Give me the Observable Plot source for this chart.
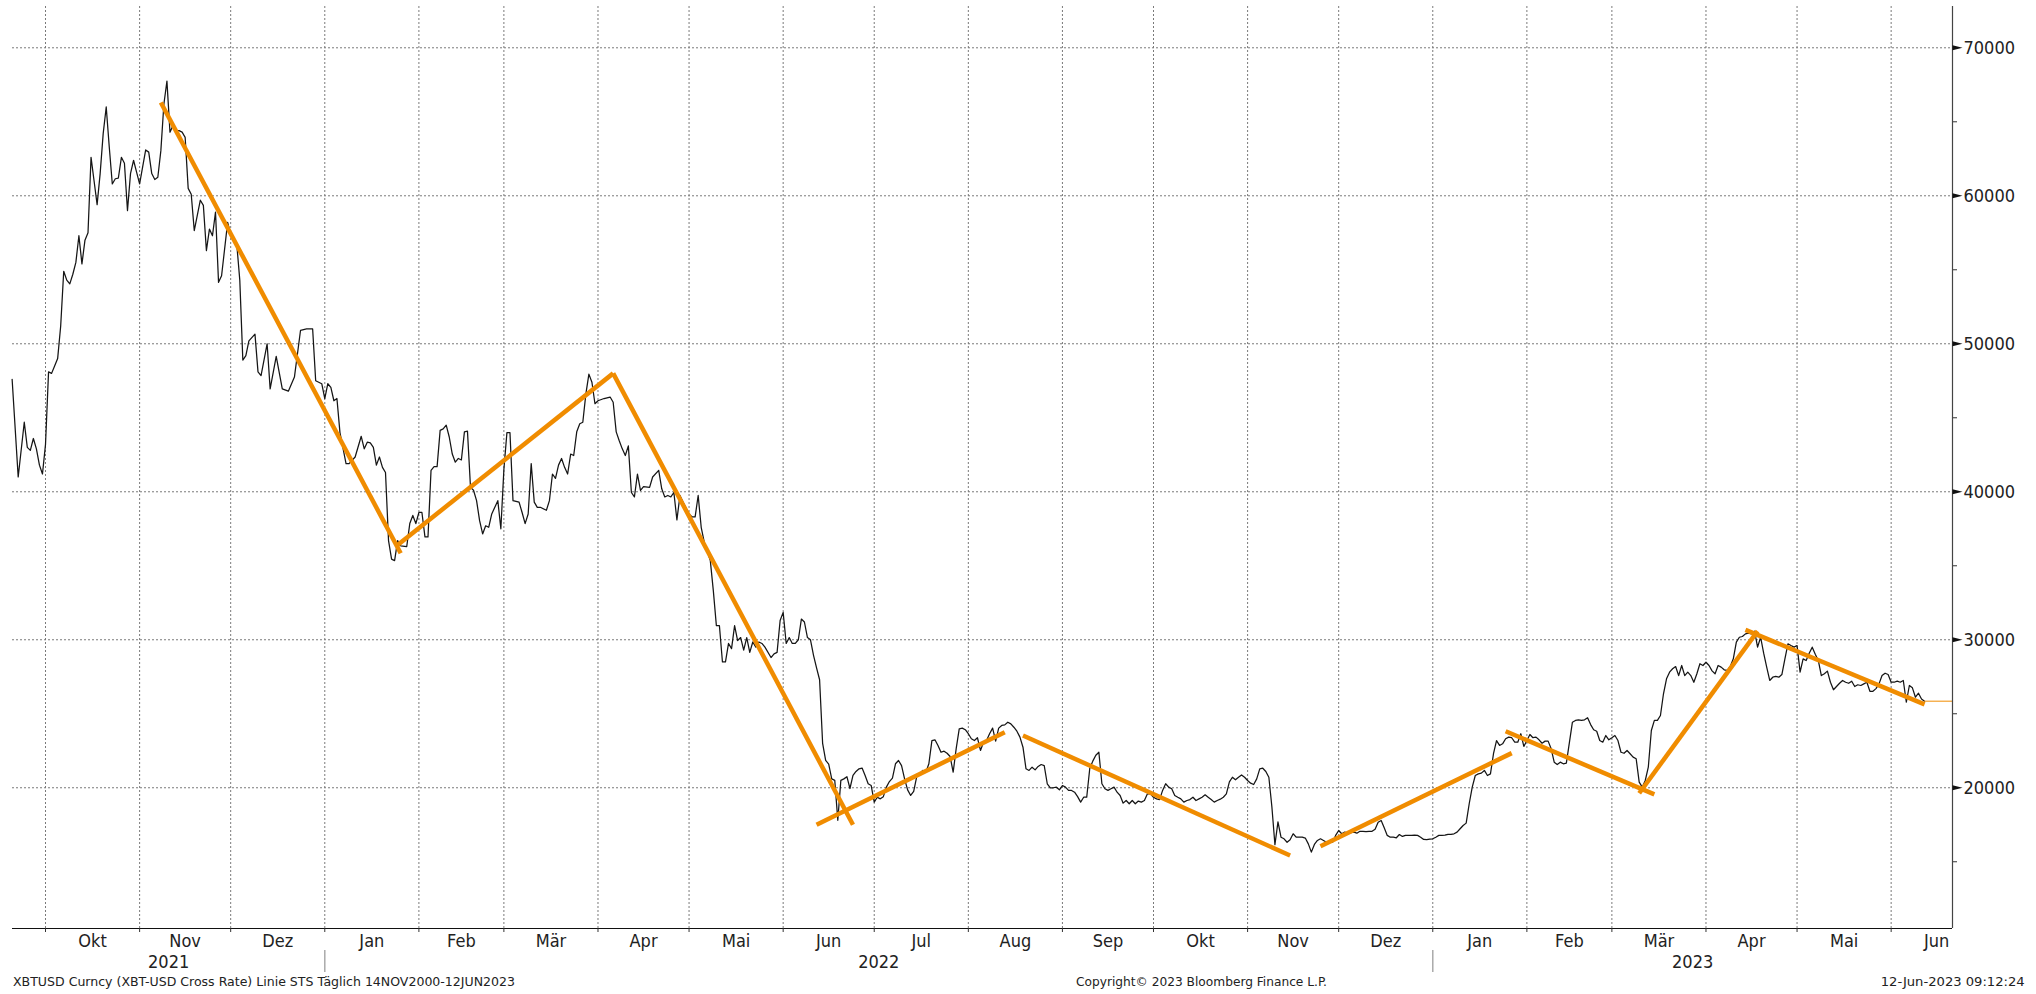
<!DOCTYPE html>
<html><head><meta charset="utf-8">
<script src="https://cdn.jsdelivr.net/npm/d3@7"></script>
<script src="https://cdn.jsdelivr.net/npm/@observablehq/plot@0.6"></script>
<style>
html,body{margin:0;padding:0;background:#fff;overflow:hidden;}
svg{display:block;}
</style></head><body><div id="chart"></div><script>
// ---- tick labels / categories ----
const monthNames = ["Jan","Feb","Mär","Apr","Mai","Jun","Jul","Aug","Sep","Okt","Nov","Dez"];
const yearLabels = ["2021","2022","2023"];
const yTicks = [20000,30000,40000,50000,60000,70000];
const yMinor = [15000,25000,35000,45000,55000,65000];
const footerTexts = ["XBTUSD Curncy (XBT-USD Cross Rate) Linie STS  Täglich 14NOV2000-12JUN2023","Copyright© 2023 Bloomberg Finance L.P.","12-Jun-2023 09:12:24"];

// ---- XBT-USD daily price, [day of month, value] per month ----
const p2021_09 = [[20,47600],[22,41000],[24,44700],[25,43000],[26,42800],[27,43600],[28,42900],[29,41800],[30,41200]];
const p2021_10 = [[1,43200],[2,48100],[3,48000],[4,48500],[5,49000],[6,51200],[7,54900],[8,54300],[9,54050],[10,54700],[11,55500],[12,57300],[13,55400],[14,57000],[15,57500],[16,62600],[17,61000],[18,59400],[19,61500],[20,64200],[21,66000],[22,63300],[23,60800],[24,61150],[25,61200],[26,62600],[27,62200],[28,59000],[29,61500],[30,62400],[31,61600]];
const p2021_11 = [[1,60800],[3,63100],[4,62950],[5,61500],[6,61100],[7,61250],[8,63050],[9,66200],[10,67750],[11,64300],[12,64750],[13,64400],[14,64400],[15,64300],[16,63950],[17,60500],[18,60100],[19,57650],[21,59700],[22,59350],[23,56300],[24,57750],[25,57300],[26,58900],[27,54150],[28,54600],[30,58200]];
const p2021_12 = [[1,57400],[3,56750],[4,54300],[5,48900],[6,49200],[7,50200],[9,50650],[10,48100],[11,47850],[13,50000],[14,46950],[16,49150],[18,46950],[20,46800],[22,47750],[24,50900],[26,51000],[28,51000],[29,47500],[31,47300]];
const p2022_01 = [[1,46300],[2,47300],[3,47050],[4,46150],[5,46300],[6,44000],[8,41900],[9,41900],[11,42350],[13,43750],[14,42900],[15,43350],[16,43300],[17,43000],[18,41800],[19,42350],[20,41650],[21,41300],[22,36700],[23,35450],[24,35350],[25,36700],[26,36350],[28,36300],[29,37850],[30,38400],[31,37850]];
const p2022_02 = [[1,38600],[2,38600],[3,36950],[4,36950],[5,41450],[6,41700],[7,41700],[8,44150],[9,44250],[10,44500],[11,43700],[12,42550],[13,42000],[14,42250],[15,42150],[16,44050],[17,44100],[18,40300],[19,40100],[20,39400],[21,38050],[22,37150],[23,37700],[24,37600],[25,38500],[27,39400],[28,37500]];
const p2022_03 = [[1,41500],[2,44000],[3,44000],[4,39400],[6,39300],[7,38600],[8,37850],[9,38500],[10,41900],[11,39300],[12,38950],[13,38950],[15,38750],[16,39400],[17,41200],[18,40900],[19,41800],[20,42250],[21,41650],[22,41200],[23,42550],[24,42450],[25,44050],[26,44600],[27,44700],[28,46600],[29,47950],[30,47400],[31,45950]];
const p2022_04 = [[1,46150],[3,46300],[5,46400],[6,46050],[7,44050],[8,43450],[9,42900],[10,42450],[11,43100],[12,39950],[13,39650],[14,41200],[15,40100],[16,40350],[18,40300],[19,41000],[21,41450],[22,40200],[23,39650],[24,39750],[25,39650],[26,39950],[27,38100],[28,39750],[29,39300]];
const p2022_05 = [[1,38500],[2,38300],[3,38300],[4,39750],[5,37600],[6,36600],[8,35350],[9,33300],[10,30950],[11,30950],[12,28500],[13,28500],[14,29750],[15,29400],[16,30950],[17,29950],[18,30150],[19,29300],[20,30150],[21,29150],[22,29850],[23,29500],[24,29850],[25,29750],[26,29500],[28,28800],[29,29050],[30,29150],[31,31300]];
const p2022_06 = [[1,31850],[2,29750],[3,30150],[4,29750],[5,29750],[6,30000],[7,31400],[8,31200],[9,30150],[10,30000],[11,28950],[12,28100],[13,27300],[14,23000],[15,21850],[16,21600],[17,20600],[18,20500],[19,17800],[20,20500],[21,20600],[22,20750],[23,19950],[24,20830],[25,21100],[26,21280],[27,21330],[28,20830],[29,20270],[30,20150]];
const p2022_07 = [[1,19030],[2,19360],[3,19250],[4,19400],[5,20040],[6,20420],[7,20650],[8,21620],[9,21840],[10,21500],[11,20600],[12,19860],[13,19480],[14,19750],[15,20760],[16,20940],[17,21170],[18,21050],[19,21620],[20,23190],[21,23240],[22,22860],[23,22400],[24,22470],[25,22330],[26,22110],[27,21050],[28,22640],[29,23980],[30,24030],[31,23920]];
const p2022_08 = [[1,23650],[2,23310],[3,23190],[4,23380],[5,22520],[6,23080],[7,23190],[8,23650],[9,24030],[10,23150],[11,24030],[12,24210],[13,24250],[14,24430],[15,24320],[16,24090],[17,23820],[18,23420],[19,22740],[20,21280],[21,21170],[22,21390],[23,21210],[24,21440],[25,21570],[26,21500],[27,20270],[28,20000],[29,20000],[30,20040],[31,19860]];
const p2022_09 = [[1,20150],[2,20040],[3,19820],[4,19820],[5,19700],[6,19400],[7,19030],[8,19360],[9,19360],[10,21300],[11,21800],[12,22200],[13,22400],[14,20270],[15,19930],[16,19820],[17,19930],[18,20040],[19,19700],[20,19480],[21,18960],[22,19140],[23,18920],[24,19140],[25,18920],[26,19100],[27,19030],[28,19140],[29,19590],[30,19590]];
const p2022_10 = [[1,19360],[2,19250],[3,19200],[4,19820],[5,20270],[6,20040],[7,19930],[8,19480],[9,19360],[10,19250],[11,19030],[12,19140],[13,19200],[14,19360],[15,19140],[16,19250],[17,19360],[18,19520],[19,19360],[20,19200],[21,19030],[22,19140],[23,19230],[24,19360],[25,19590],[26,20400],[27,20710],[28,20540],[29,20710],[30,20870],[31,20710]];
const p2022_11 = [[1,20490],[2,20310],[3,20220],[4,20600],[5,21280],[6,21320],[7,21100],[8,20710],[9,18700],[10,16150],[11,17700],[12,16660],[13,16550],[14,16320],[15,16490],[16,16890],[17,16660],[18,16660],[19,16660],[20,16600],[21,16210],[22,15650],[23,16170],[24,16440],[25,16550],[26,16440],[27,16320],[28,16380],[29,16320],[30,16780]];
const p2022_12 = [[1,17110],[2,16890],[3,17000],[4,16930],[5,16970],[6,17000],[7,16930],[8,17060],[9,17060],[10,17040],[11,17060],[12,17060],[13,17200],[14,17670],[15,17790],[16,17300],[17,16780],[18,16660],[19,16660],[20,16620],[21,16840],[22,16710],[23,16780],[24,16780],[25,16790],[26,16800],[27,16780],[28,16660],[29,16510],[30,16490],[31,16530]];
const p2023_01 = [[1,16550],[2,16660],[3,16780],[4,16780],[5,16800],[6,16850],[7,16850],[8,16890],[9,17000],[10,17230],[11,17450],[12,17610],[13,18920],[14,20040],[15,20830],[16,20940],[17,20990],[18,21170],[19,20830],[20,20940],[21,22300],[22,23190],[23,22860],[24,22970],[25,23310],[26,23420],[27,23380],[28,23080],[29,23080],[30,23650],[31,22790]];
const p2023_02 = [[1,23190],[2,23600],[3,23380],[4,23420],[5,23240],[6,23010],[7,23150],[8,23150],[9,22630],[10,21730],[11,21570],[12,21730],[13,21620],[14,21660],[16,24430],[17,24550],[18,24590],[19,24550],[20,24590],[21,24730],[22,24270],[23,23920],[24,23820],[25,23190],[26,23080],[27,23530],[28,23240]];
const p2023_03 = [[1,23380],[2,23530],[3,23190],[4,22400],[5,22330],[6,22520],[7,22300],[8,22070],[9,21960],[10,20380],[11,20040],[12,20490],[13,21390],[14,23870],[15,24550],[16,24550],[17,24880],[18,26350],[19,27360],[20,27810],[21,28040],[22,28190],[23,27580],[24,28260],[25,27580],[26,27810],[27,27580],[28,27130],[29,27700],[30,28380],[31,28260]];
const p2023_04 = [[1,28480],[2,28260],[3,27900],[4,27700],[5,28260],[6,28150],[7,27970],[8,27930],[9,28200],[10,28710],[11,29840],[12,30170],[13,30220],[14,30400],[15,30450],[16,30400],[17,30580],[18,29500],[19,30170],[20,29090],[21,28150],[22,27250],[23,27470],[24,27520],[25,27470],[26,27650],[27,28710],[28,29730],[29,29610],[30,29500]];
const p2023_05 = [[1,29610],[2,27810],[3,28710],[4,28600],[5,29090],[6,29500],[7,29020],[8,28600],[9,27580],[10,27700],[11,27880],[12,27130],[13,26620],[14,26840],[15,27060],[16,27250],[17,27130],[18,27060],[19,27200],[20,26840],[21,26960],[22,26910],[23,27020],[24,27130],[25,26520],[26,26520],[27,26700],[28,27020],[29,27580],[30,27740],[31,27650]];
const p2023_06 = [[1,27130],[2,27130],[3,27200],[4,27130],[5,27250],[6,25780],[7,26910],[8,26750],[9,26120],[10,26390],[11,26000],[12,25850]];

// ---- hand-drawn trend lines (start / end) ----
const trendFrom = [["2021-11-08",66300],["2022-01-25",36400],["2022-04-06",48000],["2022-06-12",17500],["2022-08-19",23530],["2022-11-25",16050],["2023-01-25",23820],["2023-03-10",19630],["2023-04-14",30670]];
const trendTo   = [["2022-01-26",35850],["2022-04-06",48000],["2022-06-24",17500],["2022-08-13",23750],["2022-11-15",15420],["2023-01-27",22340],["2023-03-15",19550],["2023-04-18",30580],["2023-06-12",25630]];

// ---- scale settings ----
const xDomain = [new Date("2021-09-20T03:00:00Z"), new Date("2023-06-21T05:00:00Z")];
const yDomain = [10490, 72790];

const months = [["2021-09",p2021_09],["2021-10",p2021_10],["2021-11",p2021_11],["2021-12",p2021_12],["2022-01",p2022_01],["2022-02",p2022_02],["2022-03",p2022_03],["2022-04",p2022_04],["2022-05",p2022_05],["2022-06",p2022_06],["2022-07",p2022_07],["2022-08",p2022_08],["2022-09",p2022_09],["2022-10",p2022_10],["2022-11",p2022_11],["2022-12",p2022_12],["2023-01",p2023_01],["2023-02",p2023_02],["2023-03",p2023_03],["2023-04",p2023_04],["2023-05",p2023_05],["2023-06",p2023_06]];
const utc = s => new Date(s + "T00:00:00Z");
const price = months.flatMap(([m, rows]) => rows.map(([day, v]) => ({date: utc(`${m}-${String(day).padStart(2,"0")}`), value: v})));
const trends = trendFrom.map((f, i) => ({x1: utc(f[0]), y1: f[1], x2: utc(trendTo[i][0]), y2: trendTo[i][1]}));
const last = price[price.length - 1];
const lastLine = [{date: last.date, value: last.value}, {date: xDomain[1], value: last.value}];

const monthStarts = d3.utcMonth.range(utc("2021-10-01"), utc("2023-06-02"));
const monthMids = monthStarts.map(d => new Date((+d + +d3.utcMonth.offset(d, 1)) / 2));
const yearStarts = [utc("2022-01-01"), utc("2023-01-01")];
const yearBounds = [xDomain[0], ...yearStarts, xDomain[1]];
const yearMids = yearLabels.map((_, i) => new Date((+yearBounds[i] + +yearBounds[i + 1]) / 2));

const ORANGE = "#F08C00";
const GRID = {stroke: "#7a7a7a", strokeOpacity: 1, strokeDasharray: "2,2", strokeWidth: 1};
const FONT = '"DejaVu Sans Condensed","DejaVu Sans",sans-serif';
const triRight = {draw(ctx) { ctx.moveTo(0, -2.5); ctx.lineTo(10, 0); ctx.lineTo(0, 2.5); ctx.closePath(); }};

const chart = Plot.plot({
  width: 2036, height: 972,
  marginLeft: 12, marginRight: 84, marginTop: 6, marginBottom: 44,
  style: {fontFamily: FONT, color: "#222", background: "#fff", overflow: "visible"},
  x: {type: "utc", domain: xDomain},
  y: {domain: yDomain, label: null},
  marks: [
    Plot.gridX(monthStarts, GRID),
    Plot.gridY(yTicks, GRID),
    Plot.line(price, {x: "date", y: "value", stroke: "#151515", strokeWidth: 1.25}),
    Plot.link(trends, {x1: "x1", y1: "y1", x2: "x2", y2: "y2", stroke: ORANGE, strokeWidth: 4.5}),
    Plot.line(lastLine, {x: "date", y: "value", stroke: ORANGE, strokeWidth: 1}),
    Plot.ruleY([yDomain[0]], {stroke: "#111", strokeWidth: 1.2}),
    Plot.ruleX([xDomain[1]], {stroke: "#444", strokeWidth: 1.2}),
    Plot.axisX(monthStarts, {tickSize: 4, tickFormat: () => "", stroke: "#333"}),
    Plot.axisX(monthMids, {tickSize: 0, tickPadding: 6.2, fontSize: 18, tickFormat: d => monthNames[d.getUTCMonth()]}),
    Plot.axisX(yearMids, {tickSize: 0, tickPadding: 27.2, fontSize: 18, tickFormat: d => yearLabels.find(y => +y === d.getUTCFullYear())}),
    Plot.tickX(yearStarts, {x: d => d, stroke: "#aaa", strokeWidth: 1.5, insetTop: 900, dy: 44}),
    Plot.axisY(yMinor, {anchor: "right", tickSize: 4, tickFormat: () => "", stroke: "#333"}),
    Plot.axisY(yTicks, {anchor: "right", tickSize: 0, tickPadding: 11, fontSize: 18, tickFormat: d => String(d)}),
    Plot.dot(yTicks, {y: d => d, frameAnchor: "right", symbol: triRight, fill: "#111", stroke: null})
  ]
});
document.getElementById("chart").appendChild(chart);

// footer line below the chart
const foot = d3.select("body").append("svg").attr("width", 2036).attr("height", 22)
  .style("font-family", FONT).style("font-size", "13px").attr("fill", "#222");
const footPos = [[13, 502, "start"], [1076, 251, "start"], [1880.7, 144, "start"]];
footerTexts.forEach((t, i) => {
  foot.append("text").attr("x", footPos[i][0]).attr("y", 14)
    .attr("textLength", footPos[i][1]).attr("lengthAdjust", "spacingAndGlyphs").text(t);
});
</script></body></html>
